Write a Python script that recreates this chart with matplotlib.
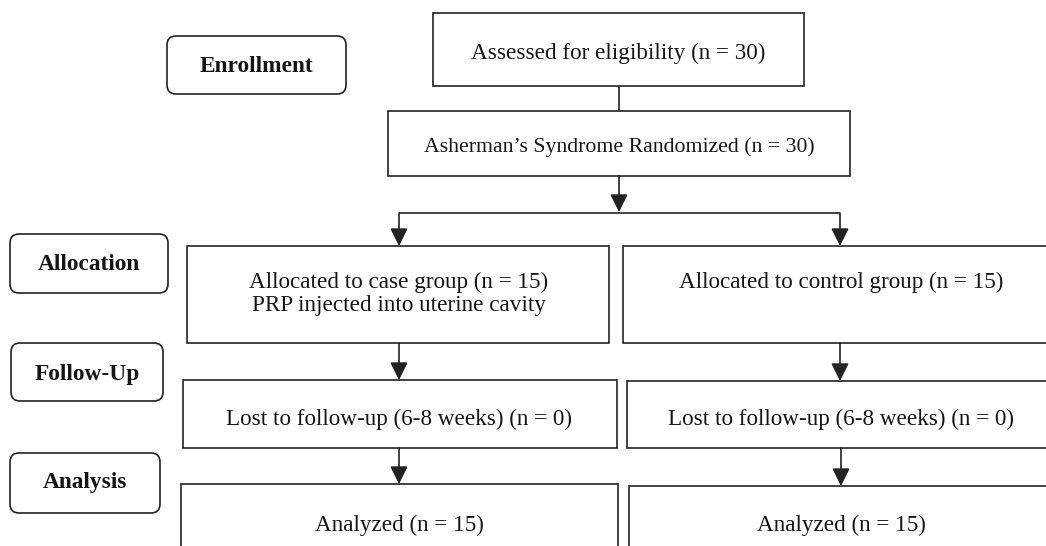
import matplotlib
matplotlib.use("Agg")
import matplotlib.pyplot as plt
from matplotlib.patches import FancyBboxPatch, Rectangle

# ---- content ----
stage_labels = ["Enrollment", "Allocation", "Follow-Up", "Analysis"]
top_texts = ["Assessed for eligibility (n = 30)",
             "Asherman\u2019s Syndrome Randomized (n = 30)"]
case_texts = [["Allocated to case group (n = 15)", "PRP injected into uterine cavity"],
              ["Lost to follow-up (6-8 weeks) (n = 0)"],
              ["Analyzed (n = 15)"]]
control_texts = [["Allocated to control group (n = 15)"],
                 ["Lost to follow-up (6-8 weeks) (n = 0)"],
                 ["Analyzed (n = 15)"]]

# ---- layout (pixel coordinates, y downward) ----
W, H = 1046, 546
fig = plt.figure(figsize=(W / 100, H / 100), dpi=100)
ax = fig.add_axes([0, 0, 1, 1])
ax.set_xlim(0, W)
ax.set_ylim(H, 0)
ax.axis("off")

LC = "#222222"
TC = "#151515"
LW = 1.2
FONT = "Liberation Serif"
FS = 16.7

stage_boxes = [(167, 36, 346, 94), (10, 234, 168, 293), (11, 343, 163, 401), (10, 453, 160, 513)]
stage_base = [72, 270, 380, 488]
for (x0, y0, x1, y1), lab, by in zip(stage_boxes, stage_labels, stage_base):
    ax.add_patch(FancyBboxPatch((x0, y0), x1 - x0, y1 - y0,
                                boxstyle="round,pad=0,rounding_size=9",
                                fc="white", ec=LC, lw=LW))
    ax.text((x0 + x1) / 2, by, lab, ha="center", va="baseline",
            fontsize=16.8, fontweight="bold", family=FONT, color=TC)

def rect(x0, y0, x1, y1):
    ax.add_patch(Rectangle((x0, y0), x1 - x0, y1 - y0, fc="white", ec=LC, lw=LW))

# top boxes
top_boxes = [(433, 13, 804, 86), (388, 111, 850, 176)]
top_sizes = [FS, 15.7]
top_base = [59, 152]
for (x0, y0, x1, y1), t, fs, by in zip(top_boxes, top_texts, top_sizes, top_base):
    rect(x0, y0, x1, y1)
    ax.text((x0 + x1) / 2, by, t, ha="center", va="baseline",
            fontsize=fs, family=FONT, color=TC)

case_boxes = [(187, 246, 609, 343), (183, 380, 617, 448), (181, 484, 618, 560)]
control_boxes = [(623, 246, 1060, 343), (627, 381, 1055, 448), (629, 486, 1055, 560)]
row_base = [288, 425, 531]
LINE_GAP = 23
for boxes, texts, cx in [(case_boxes, case_texts, 399),
                         (control_boxes, control_texts, 841)]:
    for (x0, y0, x1, y1), lines, by in zip(boxes, texts, row_base):
        rect(x0, y0, x1, y1)
        for i, t in enumerate(lines):
            ax.text(cx, by + i * LINE_GAP, t, ha="center", va="baseline",
                    fontsize=FS, family=FONT, color=TC)

def line(x0, y0, x1, y1):
    ax.plot([x0, x1], [y0, y1], color=LC, lw=LW, solid_capstyle="butt")

def arrow(x, y0, y1):
    ax.annotate("", xy=(x, y1), xytext=(x, y0),
                arrowprops=dict(arrowstyle="-|>,head_length=0.4,head_width=0.2",
                                mutation_scale=27, color=LC, lw=LW,
                                shrinkA=0, shrinkB=0))

line(619, 86, 619, 111)
arrow(619, 176, 212)
line(399, 213, 840, 213)
arrow(399, 213, 246)
arrow(840, 213, 246)
arrow(399, 343, 380)
arrow(840, 343, 381)
arrow(399, 448, 484)
arrow(841, 448, 486)

fig.savefig("out.png", dpi=100, facecolor="white")
